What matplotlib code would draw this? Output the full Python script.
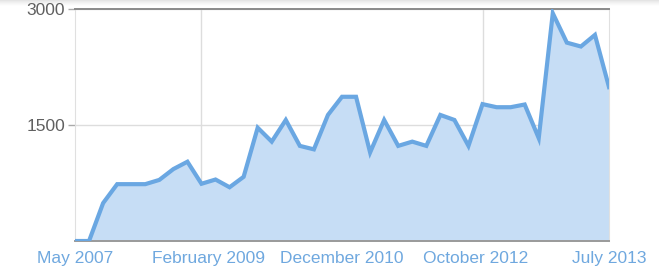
import numpy as np
import matplotlib
matplotlib.use("Agg")
import matplotlib.pyplot as plt

# values, one point per period
values = [0, 0, 490, 735, 735, 735, 790, 930, 1025, 740,
          795, 695, 830, 1465, 1285, 1565, 1230, 1185, 1630, 1865,
          1865, 1145, 1565, 1230, 1285, 1230, 1630, 1565, 1230, 1770,
          1730, 1730, 1765, 1330, 2945, 2565, 2515, 2665, 1990]
x_labels = ["May 2007", "February 2009", "December 2010", "October 2012", "July 2013"]
y_ticks = [1500, 3000]
grid_idx = [9, 19, 29]

line_c = "#6aa7e2"
fill_c = "#c6ddf5"
label_c = "#6fa8df"

plt.rcParams["font.family"] = ["Liberation Sans", "DejaVu Sans"]

fig = plt.figure(figsize=(6.59, 2.76), dpi=100)

# faint shadow band along the top edge
band = fig.add_axes([0, 1 - 6 / 276, 1, 6 / 276])
band.imshow(np.linspace(0, 1, 20).reshape(-1, 1), cmap="Greys_r", vmin=-4, vmax=1,
            aspect="auto", extent=[0, 1, 0, 1])
band.axis("off")

ax = fig.add_axes([75 / 659, 1 - 241 / 276, 534 / 659, 232 / 276])
x = np.arange(len(values))
ax.fill_between(x, values, color=fill_c, lw=0, zorder=2)
ax.plot(x, values, color=line_c, lw=3, solid_joinstyle="miter", zorder=3)

ax.set_xlim(0, len(values) - 1)
ax.set_ylim(0, 3000)

ax.set_xticks(np.linspace(0, len(values) - 1, len(x_labels)))
ax.set_xticklabels(x_labels, color=label_c, fontsize=12.5)
ax.tick_params(axis="x", length=0, pad=7)
ax.set_xticks(grid_idx, minor=True)
ax.tick_params(axis="x", which="minor", length=0)
ax.grid(which="minor", axis="x", color="#dddddd", lw=1, zorder=1)

ax.set_yticks(y_ticks)
ax.set_yticklabels([str(v) for v in y_ticks], color="#606060", fontsize=12.5)
ax.tick_params(axis="y", length=5, width=1, color="#aaaaaa", pad=2)
ax.grid(axis="y", color="#dddddd", lw=1, zorder=1)

ax.spines["top"].set_color("#8a8a8a")
ax.spines["top"].set_linewidth(1.4)
ax.spines["bottom"].set_color("#9a9a9a")
ax.spines["bottom"].set_linewidth(1.4)
ax.spines["left"].set_color("#e0e0e0")
ax.spines["right"].set_color("#e0e0e0")
ax.set_axisbelow(True)

fig.savefig("out.png", dpi=100)
